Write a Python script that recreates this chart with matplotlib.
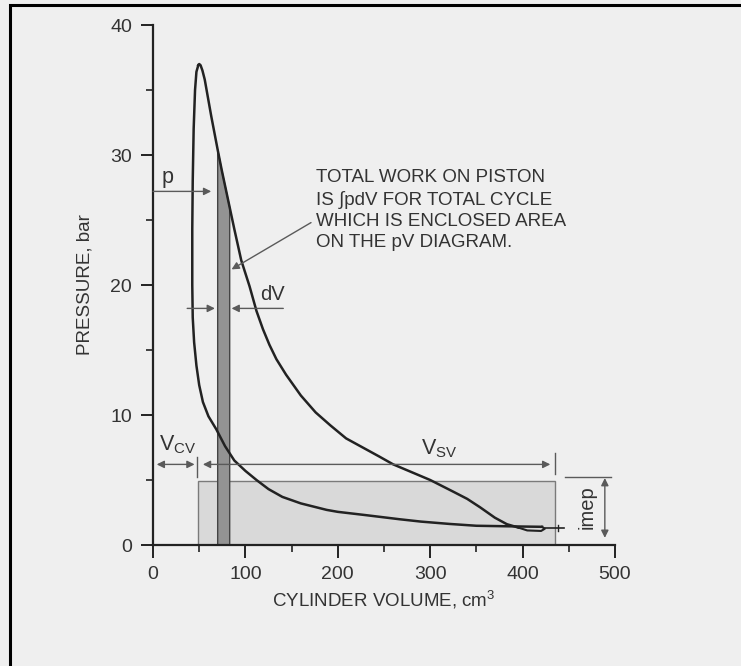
import numpy as np
import matplotlib
matplotlib.use("Agg")
import matplotlib.pyplot as plt
from matplotlib.patches import Rectangle, Polygon

plt.rcParams['font.family'] = ['Liberation Sans', 'DejaVu Sans']
plt.rcParams['mathtext.fontset'] = 'custom'
plt.rcParams['mathtext.rm'] = 'Liberation Sans'

# ---- data ----
# expansion stroke: from peak pressure down to bottom dead centre
expansion_vol = [49, 50, 51.5, 53.5, 56, 59, 63, 66.5, 70, 74.5, 79, 83.5, 88,
                 95.5, 104.5, 112, 119, 126, 133.5, 144, 160, 176, 192, 209,
                 227, 245, 260, 280, 300, 325, 340, 354, 370, 383, 395]
expansion_p = [36.9, 37.0, 36.9, 36.5, 35.8, 34.6, 33.0, 31.7, 30.4, 28.8,
               27.3, 25.8, 24.3, 21.9, 19.9, 18.0, 16.6, 15.4, 14.3, 13.1,
               11.5, 10.2, 9.2, 8.2, 7.5, 6.8, 6.2, 5.6, 5.0, 4.1, 3.55, 2.9,
               2.1, 1.6, 1.35]
# pumping loop near bottom dead centre
loop_vol = [395, 405, 420, 424, 421]
loop_p = [1.35, 1.12, 1.08, 1.25, 1.40]
# compression stroke: from bottom dead centre back up to the peak
compression_vol = [421, 400, 350, 321, 290, 267, 230, 200, 188, 160, 140, 125,
                   112, 100, 88, 78, 68.5, 60, 54, 50, 47, 44.5, 43, 42.5,
                   42.5, 43, 44, 45.5, 47, 49]
compression_p = [1.40, 1.42, 1.48, 1.62, 1.80, 1.98, 2.3, 2.55, 2.7, 3.2, 3.7,
                 4.3, 5.0, 5.7, 6.5, 7.6, 8.9, 9.9, 11.0, 12.3, 13.8, 15.6,
                 17.5, 20.0, 24.3, 28.0, 32.0, 35.0, 36.4, 36.9]

strip_vol = [70, 83]          # dV strip
clearance_vol = 48            # V_cv
swept_end_vol = 435           # end of V_sv
imep_value = 4.95             # bar
p_arrow_level = 27.2
dv_arrow_level = 18.2
dim_line_level = 6.2

xticks = [0, 100, 200, 300, 400, 500]
yticks = [0, 10, 20, 30, 40]

bg = '#efefef'
ink = '#222222'
txt = '#333333'
thin = '#5a5a5a'

fig = plt.figure(figsize=(7.41, 6.66), dpi=100, facecolor=bg)
ax = fig.add_axes([153 / 741, 121 / 666, 462 / 741, 520 / 666])
ax.set_facecolor('none')
ax.set_xlim(0, 500)
ax.set_ylim(0, 40)

for s in ['top', 'right']:
    ax.spines[s].set_visible(False)
for s in ['left', 'bottom']:
    ax.spines[s].set_linewidth(1.6)
    ax.spines[s].set_color(ink)

ax.set_xticks(xticks)
ax.set_yticks(yticks)
ax.set_xticks([50, 150, 250, 350, 450], minor=True)
ax.set_yticks([5, 15, 25, 35], minor=True)
ax.tick_params(which='major', direction='out', length=9, width=1.4, color=ink,
               labelsize=14, labelcolor=txt, pad=6)
ax.tick_params(which='minor', direction='out', length=5, width=1.2, color=ink)

ax.set_xlabel('CYLINDER VOLUME, cm$^3$', fontsize=13.5, color=txt, labelpad=4)
ax.set_ylabel('PRESSURE, bar', fontsize=13.5, color=txt, labelpad=12)

# imep rectangle
ax.add_patch(Rectangle((clearance_vol + 1, 0), swept_end_vol - clearance_vol - 1,
                       imep_value, facecolor='#d9d9d9', edgecolor='#7a7a7a',
                       lw=1.0, zorder=1))

# dV strip, top following the expansion curve
sv = np.linspace(strip_vol[0], strip_vol[1], 20)
sp = np.interp(sv, expansion_vol, expansion_p)
poly = [(strip_vol[0], 0)] + list(zip(sv, sp)) + [(strip_vol[1], 0)]
ax.add_patch(Polygon(poly, closed=True, facecolor='#939393', edgecolor='#444444',
                     lw=1.0, zorder=2))

# cycle curves
ax.plot(expansion_vol, expansion_p, color=ink, lw=1.8, zorder=3,
        solid_joinstyle='round')
ax.plot(loop_vol, loop_p, color=ink, lw=1.5, zorder=3)
ax.plot(compression_vol, compression_p, color=ink, lw=1.8, zorder=3,
        solid_joinstyle='round')
ax.plot([424, 445], [1.3, 1.3], color=ink, lw=1.2, zorder=3)
ax.plot([438, 438], [1.05, 1.55], color=ink, lw=1.0, zorder=3)

arrow = dict(arrowstyle='-|>', color=thin, lw=1.0, mutation_scale=11,
             shrinkA=0, shrinkB=0)

# p arrow
ax.annotate('', xy=(63, p_arrow_level), xytext=(0, p_arrow_level),
            arrowprops=arrow, zorder=4)
ax.text(16, 28.3, 'p', fontsize=15.5, color=txt, ha='center', va='center')

# dV arrows
ax.annotate('', xy=(67, dv_arrow_level), xytext=(37, dv_arrow_level),
            arrowprops=arrow, zorder=4)
ax.annotate('', xy=(85, dv_arrow_level), xytext=(141, dv_arrow_level),
            arrowprops=arrow, zorder=4)
ax.text(129, 19.3, 'dV', fontsize=14.5, color=txt, ha='center', va='center')

# annotation text and leader
ax.annotate('', xy=(85, 21.2), xytext=(171, 24.8), arrowprops=arrow, zorder=4)
ax.text(176, 28.9,
        'TOTAL WORK ON PISTON\nIS \u222bpdV FOR TOTAL CYCLE\n'
        'WHICH IS ENCLOSED AREA\nON THE pV DIAGRAM.',
        fontsize=13.5, color=txt, ha='left', va='top', linespacing=1.32)

# V_cv and V_sv dimension lines
ax.annotate('', xy=(4, dim_line_level), xytext=(45, dim_line_level),
            arrowprops=dict(arrowstyle='<|-|>', color=thin, lw=1.0,
                            mutation_scale=11, shrinkA=0, shrinkB=0))
ax.plot([clearance_vol, clearance_vol], [5.2, 6.8], color=thin, lw=1.0)
ax.annotate('', xy=(54, dim_line_level), xytext=(430, dim_line_level),
            arrowprops=dict(arrowstyle='<|-|>', color=thin, lw=1.0,
                            mutation_scale=11, shrinkA=0, shrinkB=0))
ax.plot([swept_end_vol, swept_end_vol], [5.5, 7.1], color=thin, lw=1.0)
ax.text(27, 7.7, r'$\mathregular{V_{CV}}$', fontsize=15.5, color=txt,
        ha='center', va='center')
ax.text(310, 7.4, r'$\mathregular{V_{SV}}$', fontsize=15.5, color=txt,
        ha='center', va='center')

# imep dimension
ax.plot([446, 496], [5.25, 5.25], color=thin, lw=1.0, clip_on=False)
ax.annotate('', xy=(489, 0.55), xytext=(489, 5.15),
            arrowprops=dict(arrowstyle='<|-|>', color=thin, lw=1.0,
                            mutation_scale=11, shrinkA=0, shrinkB=0),
            annotation_clip=False)
ax.text(470, 2.95, 'imep', fontsize=14.5, color=txt, rotation=90,
        ha='center', va='center')

# outer frame (top and left edges visible)
fig.patches.append(Rectangle((9.5 / 741, -0.1), 1.2, (666 - 5.5) / 666 + 0.1,
                             transform=fig.transFigure, fill=False,
                             edgecolor='black', lw=2.2))

fig.savefig('out.png', dpi=100, facecolor=bg)
